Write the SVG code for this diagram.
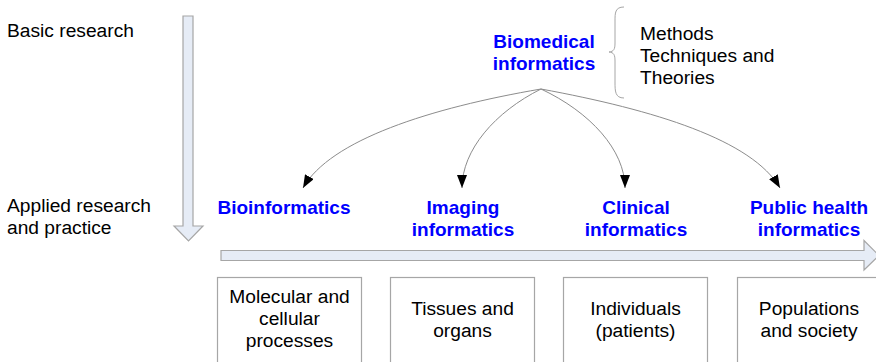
<svg xmlns="http://www.w3.org/2000/svg" width="876" height="362" viewBox="0 0 876 362">
  <style>
    .plain { font-family: "Liberation Sans", Arial, sans-serif; font-size: 19.2px; fill: #000; }
    .field { font-family: "Liberation Sans", Arial, sans-serif; font-size: 19px; font-weight: bold; fill: #0000ff; text-anchor: middle; }
    .mid { text-anchor: middle; }
    .bigarrow { fill: #e6ecf6; stroke: #a6a6a6; stroke-width: 1.2; }
    .box { fill: #fff; stroke: #a6a6a6; stroke-width: 1.2; }
    .link { fill: none; stroke: #8c8c8c; stroke-width: 1; }
  </style>
  <defs>
    <marker id="head" viewBox="0 0 13 10" refX="13" refY="5" markerWidth="13" markerHeight="10" markerUnits="userSpaceOnUse" orient="auto">
      <path d="M0,0 L13,5 L0,10 Z" fill="#000"/>
    </marker>
  </defs>

  <rect width="876" height="362" fill="#fff"/>

  <!-- side labels -->
  <g id="basic-research">
    <text class="plain" x="7" y="37">Basic research</text>
  </g>
  <g id="applied-research">
    <text class="plain" x="7" y="212">Applied research</text>
    <text class="plain" x="7" y="234">and practice</text>
  </g>

  <!-- vertical axis arrow -->
  <g id="axis-vertical">
    <path class="bigarrow" d="M183,16 H193 V226 H203 L188.5,241 L174,226 H183 Z"/>
  </g>

  <!-- horizontal axis arrow -->
  <g id="axis-horizontal">
    <path class="bigarrow" d="M221,250.5 H864 V240.5 L879,255.5 L864,270 V260.5 H221 Z"/>
  </g>

  <!-- top node -->
  <g id="biomedical-informatics">
    <text class="field" x="544" y="48">Biomedical</text>
    <text class="field" x="544" y="70">informatics</text>
  </g>

  <g id="methods">
    <path d="M624,7 C615,7 615,13 615,21 L615,43 C615,49 614,51.5 609,52 C614,52.5 615,55 615,61 L615,82 C615,91 615,98 624,98" fill="none" stroke="#a6a6a6" stroke-width="1"/>
    <text class="plain" x="640" y="40">Methods</text>
    <text class="plain" x="640" y="62">Techniques and</text>
    <text class="plain" x="640" y="84">Theories</text>
  </g>

  <!-- application fields -->
  <g id="bioinformatics">
    <text class="field" x="284" y="214">Bioinformatics</text>
  </g>
  <g id="imaging-informatics">
    <text class="field" x="463" y="214">Imaging</text>
    <text class="field" x="463" y="236">informatics</text>
  </g>
  <g id="clinical-informatics">
    <text class="field" x="636" y="214">Clinical</text>
    <text class="field" x="636" y="236">informatics</text>
  </g>
  <g id="public-health-informatics">
    <text class="field" x="809" y="214">Public health</text>
    <text class="field" x="809" y="236">informatics</text>
  </g>

  <!-- levels of scale -->
  <g id="molecular">
    <rect class="box" x="217.5" y="277.5" width="144" height="100"/>
    <text class="plain mid" x="289.5" y="303">Molecular and</text>
    <text class="plain mid" x="289.5" y="325">cellular</text>
    <text class="plain mid" x="289.5" y="347">processes</text>
  </g>
  <g id="tissues">
    <rect class="box" x="390.5" y="277.5" width="144" height="100"/>
    <text class="plain mid" x="462.5" y="315">Tissues and</text>
    <text class="plain mid" x="462.5" y="337">organs</text>
  </g>
  <g id="individuals">
    <rect class="box" x="563.5" y="277.5" width="144" height="100"/>
    <text class="plain mid" x="635.5" y="315">Individuals</text>
    <text class="plain mid" x="635.5" y="337">(patients)</text>
  </g>
  <g id="populations">
    <rect class="box" x="737.5" y="277.5" width="144" height="100"/>
    <text class="plain mid" x="809" y="315">Populations</text>
    <text class="plain mid" x="809" y="337">and society</text>
  </g>

  <!-- connectors -->
  <g id="connectors">
    <path class="link" marker-end="url(#head)" d="M541,89 C430,108 330,140 303,188"/>
    <path class="link" marker-end="url(#head)" d="M541,89 C495,112 462,150 462,188"/>
    <path class="link" marker-end="url(#head)" d="M541,89 C590,112 625,150 625,188"/>
    <path class="link" marker-end="url(#head)" d="M541,89 C655,110 752,140 780,188"/>
  </g>
</svg>
